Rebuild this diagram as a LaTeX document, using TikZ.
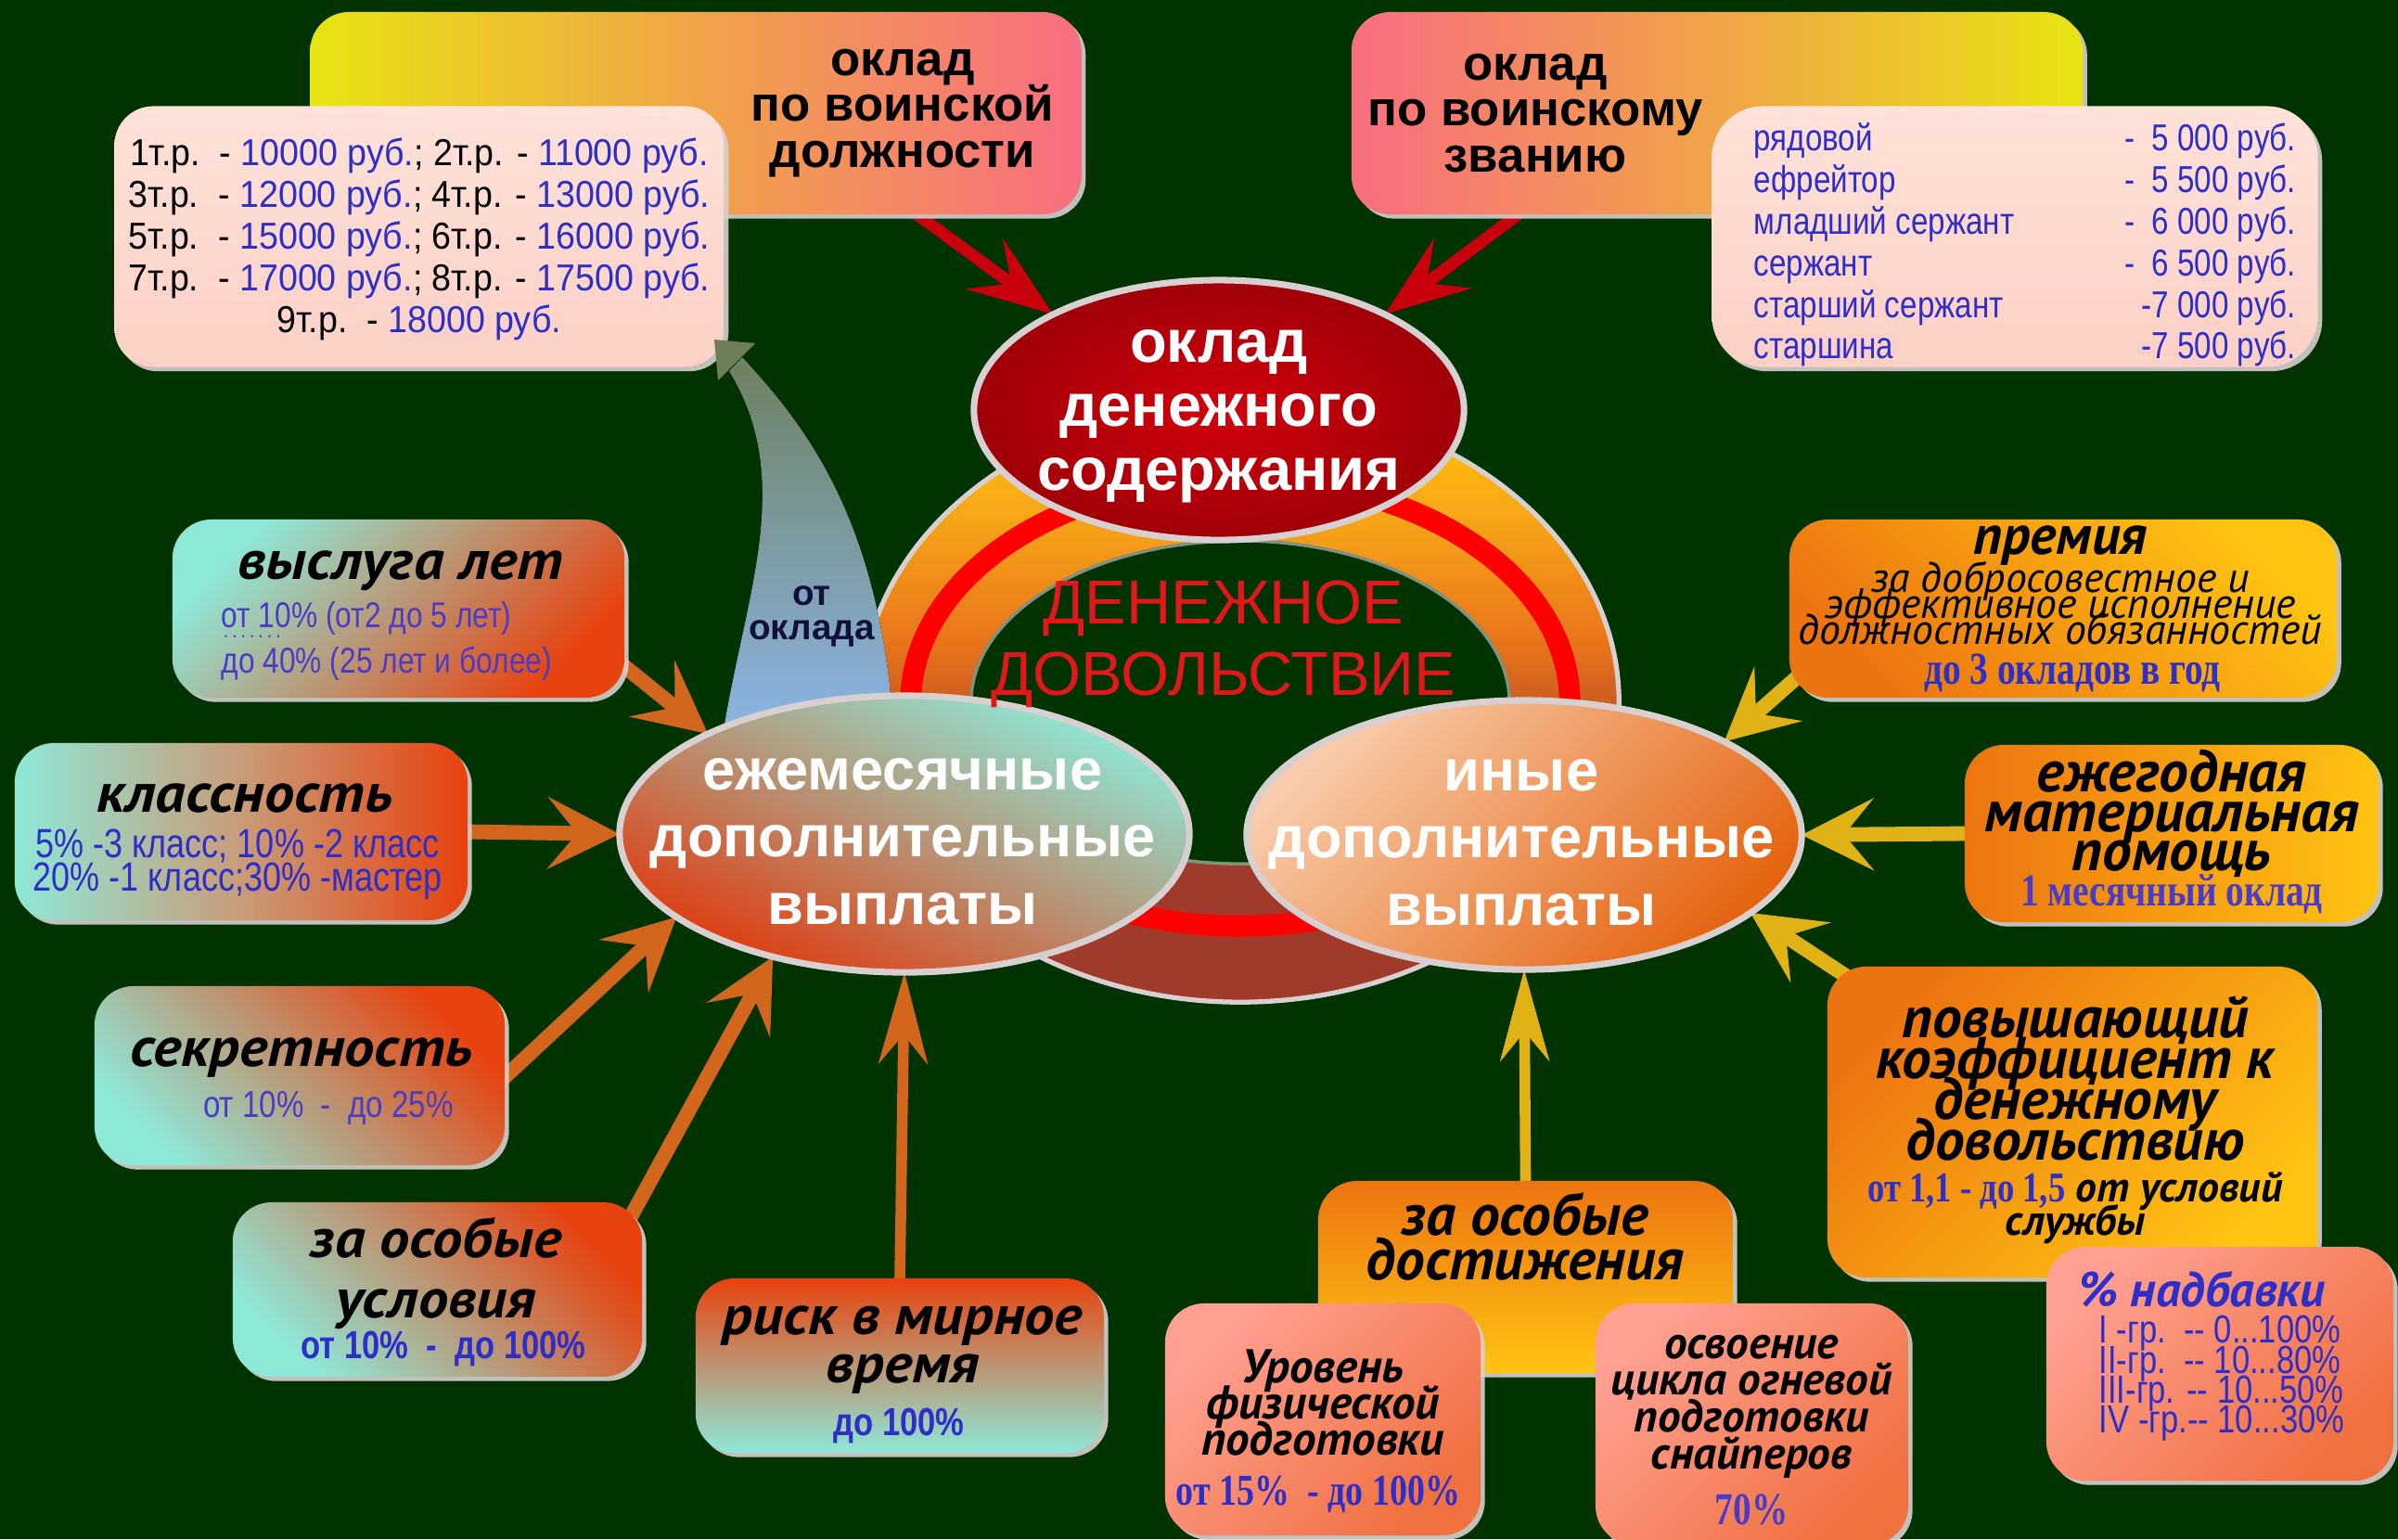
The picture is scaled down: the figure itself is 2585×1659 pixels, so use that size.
\documentclass[tikz,border=0pt]{standalone}
\usepackage{fontspec}
\setmainfont{Liberation Sans}
\newfontfamily\itf{PT Sans}
\newfontfamily\itw{PT Sans}[FakeStretch=1.08]
\newfontfamily\nar{Liberation Sans}[FakeStretch=0.82]
\newfontfamily\tabf{Liberation Sans}[FakeStretch=0.93]
\newfontfamily\serc{Liberation Serif}[FakeStretch=0.8]
\usetikzlibrary{arrows.meta,shapes.geometric,shadows,calc}
\pgfdeclarelayer{back}
\pgfdeclarelayer{arrows}
\pgfsetlayers{back,arrows,main}
\newcommand\fs[2]{\fontsize{#1}{#2}\selectfont\lineskiplimit=-100pt\relax}
\definecolor{bg}{HTML}{013300}
\definecolor{bl}{HTML}{2E2EC8}
\definecolor{pb}{HTML}{4A3CC4}
\definecolor{cy}{HTML}{8EE8D8}
\definecolor{rd}{HTML}{E8420E}
\definecolor{tanc}{HTML}{C89C78}
\definecolor{og}{HTML}{EC7410}
\definecolor{yl}{HTML}{FFC412}
\definecolor{pkb}{HTML}{FFA092}
\definecolor{pko}{HTML}{F07040}
\definecolor{ylw}{HTML}{E8E412}
\definecolor{rose}{HTML}{F86E80}
\definecolor{arR}{HTML}{C8000E}
\definecolor{arO}{HTML}{D2661C}
\definecolor{arG}{HTML}{E0B216}
\definecolor{ringB}{HTML}{A03A2A}
\definecolor{ringO}{HTML}{E8741A}
\definecolor{ringY1}{HTML}{F8A818}
\definecolor{ringY}{HTML}{FFC800}
\definecolor{rim}{HTML}{D8D0D0}
\definecolor{dred}{HTML}{E01818}
\definecolor{oklIn}{HTML}{D0000C}
\definecolor{oklOut}{HTML}{A00008}
\definecolor{ejMid}{HTML}{E06434}
\definecolor{ejBot}{HTML}{E03C10}
\definecolor{inTop}{HTML}{F8CCAC}
\definecolor{inMid}{HTML}{EC8A3A}
\definecolor{inBot}{HTML}{E46410}
\definecolor{tMid}{HTML}{F0A448}
\definecolor{tbTop}{HTML}{FFE2DA}
\definecolor{tbBot}{HTML}{FCD0C6}
\definecolor{rkMid}{HTML}{C88468}
\definecolor{blTop}{HTML}{6E8060}
\definecolor{blMid}{HTML}{8CA2B8}
\definecolor{blBot}{HTML}{8CB6E8}
\definecolor{blHead}{HTML}{6E7E58}
\definecolor{navy}{HTML}{10103A}
\pgfdeclareverticalshading{ringsh}{100bp}{color(0bp)=(ringB); color(25bp)=(ringB); color(42bp)=(ringB); color(55bp)=(ringO); color(66bp)=(ringY1); color(75bp)=(ringY); color(100bp)=(ringY)}
\begin{document}
\begin{tikzpicture}[x={(0.01cm,0)}, y={(0,-0.01cm)},
  box/.style={rectangle, rounded corners=0.42cm, inner sep=0pt, outer sep=0pt,
    drop shadow={shadow xshift=1.3pt, shadow yshift=-1.3pt, fill=rim, opacity=0.9}},
  ell/.style={ellipse, inner sep=0pt, outer sep=0pt, draw=rim, line width=2pt},
  txt/.style={inner sep=0pt, align=center},
  ttl/.style={txt, font=\itf\bfseries\itshape},
  redA/.style={draw=arR, line width=3.7pt, -{Stealth[length=26pt,width=19pt,inset=10pt]}},
  orA/.style={draw=arO, line width=4.5pt, -{Stealth[length=22pt,width=22pt,inset=9pt]}},
  orAt/.style={draw=arO, line width=3.3pt, -{Stealth[length=28pt,width=15pt,inset=9pt]}},
  gdA/.style={draw=arG, line width=4.5pt, -{Stealth[length=22pt,width=22pt,inset=9pt]}},
  gdAt/.style={draw=arG, line width=3.3pt, -{Stealth[length=28pt,width=15pt,inset=9pt]}},
  lbox/.style={box, top color=cy, middle color=tanc, bottom color=rd},
  obox/.style={box, top color=og, bottom color=yl},
  pbox/.style={box, top color=pkb, bottom color=pko},
  tbox/.style={box, top color=tbTop, bottom color=tbBot}
]
\useasboundingbox (0,0) rectangle (2585,1659);

% ---------- background and ring ----------
\begin{pgfonlayer}{back}
\fill[bg] (0,0) rectangle (2585,1659);
\shadedraw[shading=ringsh, draw=rim, line width=1.5pt] (1337,757) ellipse [x radius=4.08cm, y radius=3.23cm];
\draw[line width=6.5pt, draw=red] (1337,757) ellipse [x radius=3.55cm, y radius=2.41cm];
\filldraw[fill=bg, draw=rim!60!bg, line width=1pt] (1337,757) ellipse [x radius=2.9cm, y radius=1.74cm];
\end{pgfonlayer}

% ---------- central ellipses ----------
\node[ell, minimum width=5.28cm, minimum height=2.8cm, inner color=oklIn, outer color=oklOut] (okl) at (1314,442) {};
\node[ell, minimum width=6.14cm, minimum height=2.98cm, top color=cy, middle color=ejMid, bottom color=ejBot, shading angle=-25] (ejem) at (975,899) {};
\node[ell, minimum width=5.98cm, minimum height=2.9cm, top color=inTop, middle color=inMid, bottom color=inBot, shading angle=45] (inye) at (1643,900) {};

\node[txt, text=white, font=\bfseries\fs{18.5}{19.6}] (oklT) at (1314,449) {оклад\\денежного\\содержания};
\node[txt, text=white, font=\bfseries\fs{18}{20.6}] (ejemT) at (973,907) {ежемесячные\\дополнительные\\выплаты};
\node[txt, text=white, font=\bfseries\fs{18}{20.6}] (inyeT) at (1640,908) {иные\\дополнительные\\выплаты};
\node[txt, text=dred, font=\fs{19}{22}] (dd) at (1319,694) {ДЕНЕЖНОЕ\\ДОВОЛЬСТВИЕ};

% ---------- top boxes ----------
\node[box, minimum width=8.31cm, minimum height=2.18cm, left color=ylw, right color=rose, middle color=tMid] (t1) at (750,122) {};
\node[tbox, minimum width=6.57cm, minimum height=2.81cm] (tbl1) at (452,255) {};
\node[box, minimum width=7.88cm, minimum height=2.18cm, left color=rose, right color=ylw, middle color=tMid] (t2) at (1851,122) {};
\node[tbox, minimum width=6.53cm, minimum height=2.81cm, rounded corners=0.55cm] (tbl2) at (2172,255) {};

\node[txt, font=\bfseries\fs{15}{14}] (t1T) at (973,122) {оклад\\по воинской\\должности};
\node[txt, font=\bfseries\fs{15}{14}] (t2T) at (1655,122) {оклад\\по воинскому\\званию};

\node[txt, font=\tabf\fs{11.5}{12.8}] (tbl1T) at (452,258) {%
1т.р.\ \ - \textcolor{bl}{10000 руб.}; 2т.р. - \textcolor{bl}{11000 руб.}\\
3т.р.\ \ - \textcolor{bl}{12000 руб.}; 4т.р. - \textcolor{bl}{13000 руб.}\\
5т.р.\ \ - \textcolor{bl}{15000 руб.}; 6т.р. - \textcolor{bl}{16000 руб.}\\
7т.р.\ \ - \textcolor{bl}{17000 руб.}; 8т.р. - \textcolor{bl}{17500 руб.}\\
9т.р.\ \ - \textcolor{bl}{18000 руб.}};

\node[txt, align=left, text=bl, font=\nar\fs{11.5}{12.75}] (tbl2T) at (2183,264) {%
\makebox[5.84cm]{рядовой\hfill-\ \ 5 000 руб.}\\
\makebox[5.84cm]{ефрейтор\hfill-\ \ 5 500 руб.}\\
\makebox[5.84cm]{младший сержант\hfill-\ \ 6 000 руб.}\\
\makebox[5.84cm]{сержант\hfill-\ \ 6 500 руб.}\\
\makebox[5.84cm]{старший сержант\hfill-7 000 руб.}\\
\makebox[5.84cm]{старшина\hfill-7 500 руб.}};

% ---------- left boxes ----------
\node[box, minimum width=4.87cm, minimum height=1.92cm, top color=cy, middle color=tanc, bottom color=rd, shading angle=45] (vysl) at (429.5,656) {};
\node[box, minimum width=4.88cm, minimum height=1.91cm, left color=cy, right color=rd, middle color=tanc] (klass) at (260,896.5) {};
\node[lbox, minimum width=4.42cm, minimum height=1.93cm, shading angle=135] (sekr) at (323,1159.5) {};
\node[lbox, minimum width=4.41cm, minimum height=1.88cm, shading angle=135] (usl) at (471.5,1390) {};
\node[box, minimum width=4.40cm, minimum height=1.88cm, top color=rd, middle color=rkMid, bottom color=cy] (risk) at (970,1472) {};

\node[ttl, font=\itw\bfseries\itshape\fs{17}{15}] (vyslT) at (432,615) {выслуга лет};
\node[txt, align=left, anchor=west, text=pb, font=\nar\fs{11}{14}] (vyslS) at (238,691) {от 10\% (от2 до 5 лет)\\до 40\% (25 лет и более)};
\node[txt, anchor=west, text=pb, font=\fs{6}{6}] (vyslD) at (240,686) {.\,.\,.\,.\,.\,.\,.};

\node[ttl, font=\itw\bfseries\itshape\fs{17}{15}] (klassT) at (264,861) {классность};
\node[txt, text=bl, font=\nar\fs{12.5}{10.3}] (klassS) at (256,932) {5\% -3 класс; 10\% -2 класс\\20\% -1 класс;30\% -мастер};

\node[ttl, font=\itw\bfseries\itshape\fs{17}{15}] (sekrT) at (325,1140) {секретность};
\node[txt, text=pb, font=\nar\fs{11.5}{12}] (sekrS) at (354,1194) {от 10\%\ \ -\ \ до 25\%};

\node[ttl, font=\itw\bfseries\itshape\fs{17}{18.5}] (uslT) at (470,1372) {за особые\\условия};
\node[txt, text=bl, font=\nar\bfseries\fs{12}{12}] (uslS) at (478,1454) {от 10\%\ \ -\ \ до 100\%};

\node[ttl, font=\itw\bfseries\itshape\fs{17}{15}] (riskT) at (973,1455) {риск в мирное\\время};
\node[txt, text=bl, font=\nar\bfseries\fs{12}{12}] (riskS) at (969,1537) {до 100\%};

% ---------- right boxes ----------
\node[obox, minimum width=5.90cm, minimum height=1.92cm, shading angle=135] (prem) at (2224,656) {};
\node[box, minimum width=4.46cm, minimum height=1.91cm, left color=og, right color=yl] (ejeg) at (2341,898.5) {};
\node[obox, minimum width=5.28cm, minimum height=3.35cm, shading angle=45] (povysh) at (2234,1209.5) {};
\node[pbox, minimum width=3.74cm, minimum height=2.52cm, shading angle=45] (nadb) at (2393,1470) {};
\node[obox, minimum width=4.47cm, minimum height=2.07cm] (osob) at (1644.5,1376.5) {};
\node[pbox, minimum width=3.40cm, minimum height=2.50cm, shading angle=45] (fiz) at (1426,1530) {};
\node[pbox, minimum width=3.37cm, minimum height=2.60cm, shading angle=45] (snip) at (1888.5,1535) {};

\node[ttl, font=\itf\bfseries\itshape\fs{17}{15}] (premT) at (2221,588) {премия};
\node[txt, font=\itf\itshape\fs{13}{8}] (premS) at (2221,650) {за добросовестное и\\эффективное исполнение\\должностных обязанностей};
\node[txt, text=bl, font=\serc\bfseries\fs{14}{14}] (premV) at (2234,725) {до 3 окладов\ в год};

\node[ttl, font=\itf\bfseries\itshape\fs{18}{12}] (ejegT) at (2341,877) {ежегодная\\материальная\\помощь};
\node[txt, text=pb, font=\serc\bfseries\fs{14}{14}] (ejegV) at (2341,964) {1 месячный оклад};

\node[ttl, font=\itf\bfseries\itshape\fs{18}{12.5}] (povyshT) at (2237,1163) {повышающий\\коэффициент к\\денежному\\довольствию};
\node[txt, font=\itf\bfseries\itshape\fs{13}{10}] (povyshS) at (2237,1302) {{\serc\upshape\color{bl}от 1,1 - до 1,5} от условий\\службы};

\node[txt, text=bl, font=\itf\bfseries\itshape\fs{15}{15}] (nadbT) at (2374,1390) {\% надбавки};
\node[txt, align=left, anchor=west, text=bl, font=\nar\fs{12}{9.2}] (nadbS) at (2262,1486) {I -гр.\ \ -- 0...100\%\\II-гр.\ \ -- 10...80\%\\III-гр. -- 10...50\%\\IV -гр.-- 10...30\%};

\node[ttl, font=\itf\bfseries\itshape\fs{18}{13.5}] (osobT) at (1644,1333) {за особые\\достижения};

\node[ttl, font=\itf\bfseries\itshape\fs{14.5}{11.2}] (fizT) at (1426,1512) {Уровень\\физической\\подготовки};
\node[txt, text=bl, font=\serc\bfseries\fs{13.5}{13.5}] (fizV) at (1421,1611) {от 15\%\ \ - до 100\%};

\node[ttl, font=\itf\bfseries\itshape\fs{14}{11.3}] (snipT) at (1888,1516) {освоение\\цикла огневой\\подготовки\\снайперов};
\node[txt, text=pb, font=\serc\bfseries\fs{14}{14}] (snipV) at (1888,1627) {70\%};

% ---------- connectors ----------
\begin{pgfonlayer}{arrows}
\draw[redA] ($(t1.south west)!0.787!(t1.south east)$) -- (okl.150);
\draw[redA] ($(t2.south west)!0.228!(t2.south east)$) -- (okl.30);

\draw[orA] ([xshift=-0.2cm,yshift=0.5cm]vysl.south east) -- (ejem.153);
\draw[orA] (klass.east) -- (ejem.180);
\draw[orA] ([xshift=-0.2cm,yshift=-0.2cm]sekr.east) -- (ejem.200);
\draw[orA] ([xshift=-0.2cm,yshift=-0.3cm]usl.north east) -- (ejem.223);
\draw[orAt] (risk.north) -- (ejem.south);

\draw[gdA] ([xshift=0.4cm,yshift=0.5cm]prem.south west) -- (inye.25);
\draw[gdA] (ejeg.west) -- (inye.0);
\draw[gdA] ([xshift=0.5cm,yshift=-0.3cm]povysh.north west) -- (inye.341);
\draw[gdAt] (osob.north) -- (inye.south);

% curved wide arrow "от оклада"
\fill[top color=blTop, middle color=blMid, bottom color=blBot]
  (778,800) .. controls (800,650) and (860,520) .. (786,400) -- (800,385)
  .. controls (870,460) and (945,560) .. (962,770) -- cycle;
\end{pgfonlayer}
\fill[blHead] (770,366) -- (814,370) -- (792,392) -- (774,410) -- cycle;
\node[txt, text=navy, font=\bfseries\fs{11}{10.5}] (otokl) at (875,664) {от\\оклада};

\end{tikzpicture}
\end{document}
